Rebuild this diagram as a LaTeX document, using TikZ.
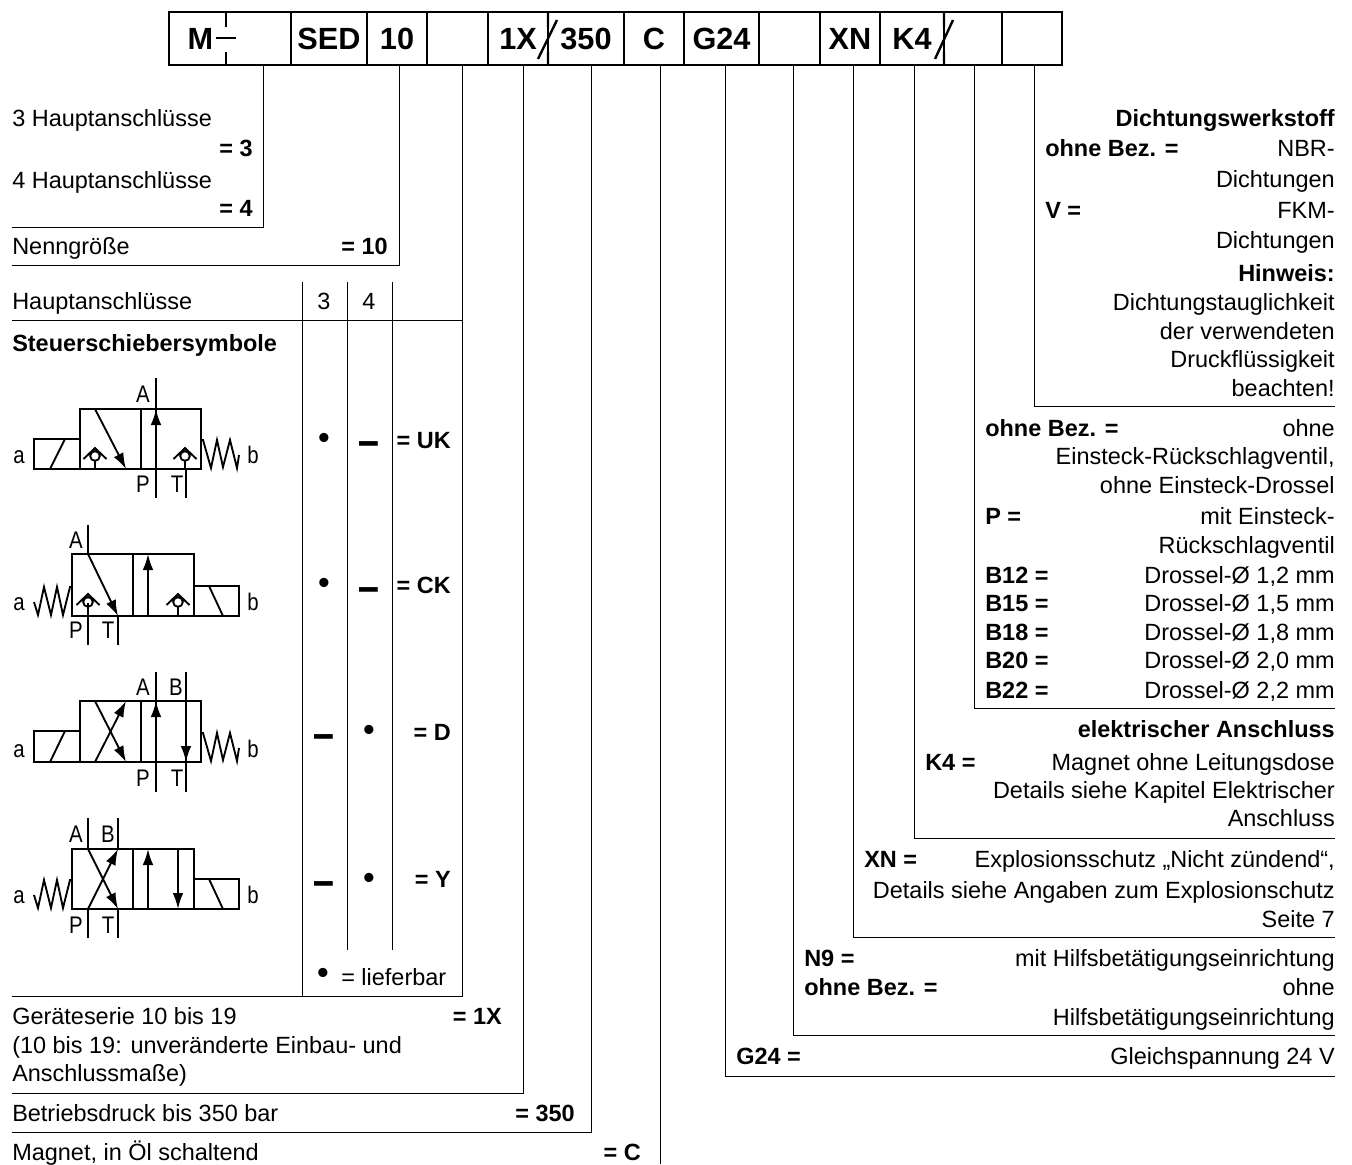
\documentclass[tikz,border=0pt]{standalone}
\usepackage{fontspec}
\setmainfont{Liberation Sans}
\usetikzlibrary{arrows.meta}
\usetikzlibrary{calc}
\tikzset{>={Latex[length=12,width=8]}}

\begin{document}
\begin{tikzpicture}[x=0.75pt,y=-0.75pt,
    cell/.style={draw,line width=1.8,inner sep=0,minimum height=39.75,text height=16,text depth=0,font=\fontsize{23}{24}\selectfont\bfseries},
    rule/.style={line width=0.75},
    code/.style={line width=1.8},
    valve/.style={line width=1.4},
    txt/.style={anchor=base west,inner sep=0,font=\fontsize{17.6}{20}\selectfont},
    rtxt/.style={anchor=base east,inner sep=0,font=\fontsize{17.6}{20}\selectfont},
    btxt/.style={txt,font=\fontsize{17.6}{20}\selectfont\bfseries},
    brtxt/.style={rtxt,font=\fontsize{17.6}{20}\selectfont\bfseries},
    dotsym/.style={inner sep=0,font=\fontsize{24}{24}\selectfont\bfseries},
    dashsym/.style={inner sep=0,xscale=0.8,yscale=2,font=\fontsize{17.6}{20}\selectfont\bfseries},
    port/.style={anchor=base,inner sep=0,xscale=0.85,font=\fontsize{18}{20}\selectfont},
    checkv/.pic={\draw[valve] (0,0) circle[radius=4.8] (-11.5,3) -- (0,-8) -- (11.5,3) (0,4.8) -- (0,13);}]
    \useasboundingbox (0,0) rectangle (1352,1164);

    \node[cell,minimum width=91.5] (cM) at (230,38.5) {};
    \node[cell,minimum width=57] (cS) at (329,38.5) {SED};
    \node[cell,minimum width=45] (cT) at (397,38.5) {10};
    \node[cell,minimum width=45.75] (cB) at (457.5,38.5) {};
    \node[cell,minimum width=45] (cX) at (518,38.5) {1X};
    \node[cell,minimum width=57] (cD) at (586,38.5) {350};
    \node[cell,minimum width=45] (cC) at (654,38.5) {C};
    \node[cell,minimum width=56.25] (cG) at (721.5,38.5) {G24};
    \node[cell,minimum width=45.75] (cN) at (789.5,38.5) {};
    \node[cell,minimum width=45] (cE) at (850,38.5) {XN};
    \node[cell,minimum width=48] (cK) at (912,38.5) {K4};
    \node[cell,minimum width=43.5] (cR) at (973,38.5) {};
    \node[cell,minimum width=45] (cV) at (1032,38.5) {};
    \node[cell,draw=none,minimum width=30,minimum height=20] (cL) at (200.5,38.5) {M};

    \draw[code] (226,12) -- (226,27) (226,52) -- (226,65) (216,38) -- (236,38);
    \draw[code] (548,12) -- (548,27) (548,52) -- (548,65) (557,20) -- (538,59);
    \draw[code] (944,12) -- (944,27) (944,52) -- (944,65) (953,20) -- (935,59);

    \coordinate (eM) at (12,227);
    \coordinate (eT) at (12,265);
    \coordinate (eB) at (12,996);
    \coordinate (eX) at (12,1093);
    \coordinate (eD) at (12,1132);
    \coordinate (eC) at (660,1164);
    \coordinate (eG) at (1335,1076);
    \coordinate (eN) at (1335,1035);
    \coordinate (eE) at (1335,937);
    \coordinate (eK) at (1335,838);
    \coordinate (eR) at (1335,708);
    \coordinate (eV) at (1335,406);
    \draw[rule] ($(cM.south)+(33,0)$) |- (eM);
    \draw[rule] ($(cT.south)+(2,0)$) |- (eT);
    \draw[rule] ($(cB.south)+(4.5,0)$) |- (eB);
    \draw[rule] ($(cX.south)+(5,0)$) |- (eX);
    \draw[rule] ($(cD.south)+(5,0)$) |- (eD);
    \draw[rule] ($(cC.south)+(6,0)$) -- (eC);
    \draw[rule] ($(cG.south)+(3.5,0)$) |- (eG);
    \draw[rule] ($(cN.south)+(3.5,0)$) |- (eN);
    \draw[rule] ($(cE.south)+(3,0)$) |- (eE);
    \draw[rule] ($(cK.south)+(2,0)$) |- (eK);
    \draw[rule] ($(cR.south)+(1,0)$) |- (eR);
    \draw[rule] ($(cV.south)+(2,0)$) |- (eV);

    \draw[rule] (12,320) -- (462,320);
    \draw[rule] (302,282) -- (302,996);
    \draw[rule] (347,282) -- (347,950);
    \draw[rule] (392,282) -- (392,950);

    \node[txt] (la) at (12,126) {3 Hauptanschlüsse};
    \node[brtxt] (lb) at (253,156) {= 3};
    \node[txt] (lc) at (12,188) {4 Hauptanschlüsse};
    \node[brtxt] (ld) at (253,216) {= 4};
    \node[txt] (le) at (12,254) {Nenngröße};
    \node[brtxt] (lf) at (388,254) {= 10};
    \node[txt] (lg) at (12,309) {Hauptanschlüsse};
    \node[txt,anchor=base] (lh) at (324,309) {3};
    \node[txt,anchor=base] (li) at (369,309) {4};
    \node[btxt] (lj) at (12,351) {Steuerschiebersymbole};

    \node[dotsym] (uka) at (324,441) {•};
    \node[dashsym] (ukb) at (369,449) {—};
    \node[brtxt] (ukc) at (451,448) {= UK};
    \node[dotsym] (cka) at (324,586) {•};
    \node[dashsym] (ckb) at (369,595) {—};
    \node[brtxt] (ckc) at (451,593) {= CK};
    \node[dashsym] (dda) at (324,742) {—};
    \node[dotsym] (ddb) at (369,733) {•};
    \node[brtxt] (ddc) at (451,740) {= D};
    \node[dashsym] (ya) at (324,889) {—};
    \node[dotsym] (yb) at (369,881) {•};
    \node[brtxt] (yc) at (451,887) {= Y};
    \node[dotsym] (lfa) at (323,976) {•};
    \node[txt] (lfb) at (341,985) {= lieferbar};

    \node[txt] (sa) at (12,1024) {Geräteserie 10 bis 19};
    \node[brtxt] (sb) at (502,1024) {= 1X};
    \node[txt] (sc) at (12,1053) {(10 bis 19: unveränderte Einbau- und};
    \node[txt] (sd) at (12,1081) {Anschlussmaße)};
    \node[txt] (se) at (12,1121) {Betriebsdruck bis 350 bar};
    \node[brtxt] (sf) at (575,1121) {= 350};
    \node[txt] (sg) at (12,1160) {Magnet, in Öl schaltend};
    \node[brtxt] (sh) at (641,1160) {= C};

    \node[brtxt] (ra) at (1335,126) {Dichtungswerkstoff};
    \node[btxt] (rb) at (1045,156) {ohne Bez. =};
    \node[rtxt] (rc) at (1335,156) {NBR-};
    \node[rtxt] (rd) at (1335,187) {Dichtungen};
    \node[btxt] (re) at (1045,218) {V =};
    \node[rtxt] (rf) at (1335,218) {FKM-};
    \node[rtxt] (rg) at (1335,248) {Dichtungen};
    \node[brtxt] (rh) at (1335,281) {Hinweis:};
    \node[rtxt] (ri) at (1335,310) {Dichtungstauglichkeit};
    \node[rtxt] (rj) at (1335,339) {der verwendeten};
    \node[rtxt] (rk) at (1335,367) {Druckflüssigkeit};
    \node[rtxt] (rl) at (1335,396) {beachten!};

    \node[btxt] (pa) at (985,436) {ohne Bez. =};
    \node[rtxt] (pb) at (1335,436) {ohne};
    \node[rtxt] (pc) at (1335,464) {Einsteck-Rückschlagventil,};
    \node[rtxt] (pd) at (1335,493) {ohne Einsteck-Drossel};
    \node[btxt] (pe) at (985,524) {P =};
    \node[rtxt] (pf) at (1335,524) {mit Einsteck-};
    \node[rtxt] (pg) at (1335,553) {Rückschlagventil};
    \node[btxt] (ph) at (985,583) {B12 =};
    \node[rtxt] (pi) at (1335,583) {Drossel-Ø 1,2 mm};
    \node[btxt] (pj) at (985,611) {B15 =};
    \node[rtxt] (pk) at (1335,611) {Drossel-Ø 1,5 mm};
    \node[btxt] (pl) at (985,640) {B18 =};
    \node[rtxt] (pm) at (1335,640) {Drossel-Ø 1,8 mm};
    \node[btxt] (pn) at (985,668) {B20 =};
    \node[rtxt] (po) at (1335,668) {Drossel-Ø 2,0 mm};
    \node[btxt] (pp) at (985,698) {B22 =};
    \node[rtxt] (pq) at (1335,698) {Drossel-Ø 2,2 mm};

    \node[brtxt] (ka) at (1335,737) {elektrischer Anschluss};
    \node[btxt] (kb) at (925,770) {K4 =};
    \node[rtxt] (kc) at (1335,770) {Magnet ohne Leitungsdose};
    \node[rtxt] (kd) at (1335,798) {Details siehe Kapitel Elektrischer};
    \node[rtxt] (ke) at (1335,826) {Anschluss};

    \node[btxt] (xa) at (864,867) {XN =};
    \node[rtxt] (xb) at (1335,867) {Explosionsschutz „Nicht zündend“,};
    \node[rtxt] (xc) at (1335,898) {Details siehe Angaben zum Explosionschutz};
    \node[rtxt] (xd) at (1335,927) {Seite 7};

    \node[btxt] (na) at (804,966) {N9 =};
    \node[rtxt] (nb) at (1335,966) {mit Hilfsbetätigungseinrichtung};
    \node[btxt] (nc) at (804,995) {ohne Bez. =};
    \node[rtxt] (nd) at (1335,995) {ohne};
    \node[rtxt] (ne) at (1335,1025) {Hilfsbetätigungseinrichtung};
    \node[btxt] (ga) at (736,1064) {G24 =};
    \node[rtxt] (gb) at (1335,1064) {Gleichspannung 24 V};

    \draw[valve] (34,439) rectangle (80,469) (50,469) -- (65,439);
    \draw[valve] (80,409) rectangle (201,469) (141,409) -- (141,469);
    \draw[valve] (156,378) -- (156,498) (186,469) -- (186,498);
    \draw[valve,->] (156,440) -- (156,409);
    \draw[valve,->] (95,409) -- (126,469);
    \pic at (95,456) {checkv};
    \pic at (185,456) {checkv};
    \draw[valve] (201,440) -- (203,440) -- (211,468) -- (217,440) -- (223,467) -- (230,440) -- (237,468) -- (239,455);
    \node[port] (v1a) at (19,463) {a};
    \node[port] (v1b) at (253,463) {b};
    \node[port] (v1A) at (143,402) {A};
    \node[port] (v1P) at (143,492) {P};
    \node[port] (v1T) at (177,492) {T};

    \draw[valve] (72,554) rectangle (194,616) (133,554) -- (133,616);
    \draw[valve] (194,586) rectangle (239,616) (209,586) -- (223,616);
    \draw[valve] (88,525) -- (88,554) (88,603) -- (88,645) (118,616) -- (118,645);
    \draw[valve,->] (88,554) -- (118,616);
    \draw[valve,->] (148,616) -- (148,554);
    \pic at (88,602) {checkv};
    \pic at (178,602) {checkv};
    \draw[valve] (34,602) -- (38,615) -- (44,587) -- (51,615) -- (57,587) -- (63,615) -- (70,587) -- (72,587);
    \node[port] (v2a) at (19,610) {a};
    \node[port] (v2b) at (253,610) {b};
    \node[port] (v2A) at (76,548) {A};
    \node[port] (v2P) at (76,638) {P};
    \node[port] (v2T) at (108,638) {T};

    \draw[valve] (34,731) rectangle (80,762) (50,762) -- (65,731);
    \draw[valve] (80,701) rectangle (201,762) (141,701) -- (141,762);
    \draw[valve] (156,672) -- (156,792) (186,672) -- (186,792);
    \draw[valve,->] (156,730) -- (156,701);
    \draw[valve,->] (186,730) -- (186,762);
    \draw[valve,->] (95,701) -- (126,762);
    \draw[valve,->] (95,762) -- (126,701);
    \draw[valve] (201,733) -- (203,733) -- (211,761) -- (217,733) -- (223,760) -- (230,733) -- (237,761) -- (239,748);
    \node[port] (v3a) at (19,757) {a};
    \node[port] (v3b) at (253,757) {b};
    \node[port] (v3A) at (143,695) {A};
    \node[port] (v3B) at (176,695) {B};
    \node[port] (v3P) at (143,786) {P};
    \node[port] (v3T) at (177,786) {T};

    \draw[valve] (72,849) rectangle (194,909) (133,849) -- (133,909);
    \draw[valve] (194,879) rectangle (239,909) (209,879) -- (223,909);
    \draw[valve] (88,818) -- (88,849) (88,909) -- (88,938) (118,818) -- (118,849) (118,909) -- (118,938);
    \draw[valve,->] (88,849) -- (118,909);
    \draw[valve,->] (88,909) -- (118,849);
    \draw[valve,->] (148,909) -- (148,849);
    \draw[valve,->] (178,849) -- (178,909);
    \draw[valve] (34,895) -- (38,908) -- (44,880) -- (51,908) -- (57,880) -- (63,908) -- (70,880) -- (72,880);
    \node[port] (v4a) at (19,903) {a};
    \node[port] (v4b) at (253,903) {b};
    \node[port] (v4A) at (76,842) {A};
    \node[port] (v4B) at (108,842) {B};
    \node[port] (v4P) at (76,933) {P};
    \node[port] (v4T) at (108,933) {T};

    \end{tikzpicture}
\end{document}
